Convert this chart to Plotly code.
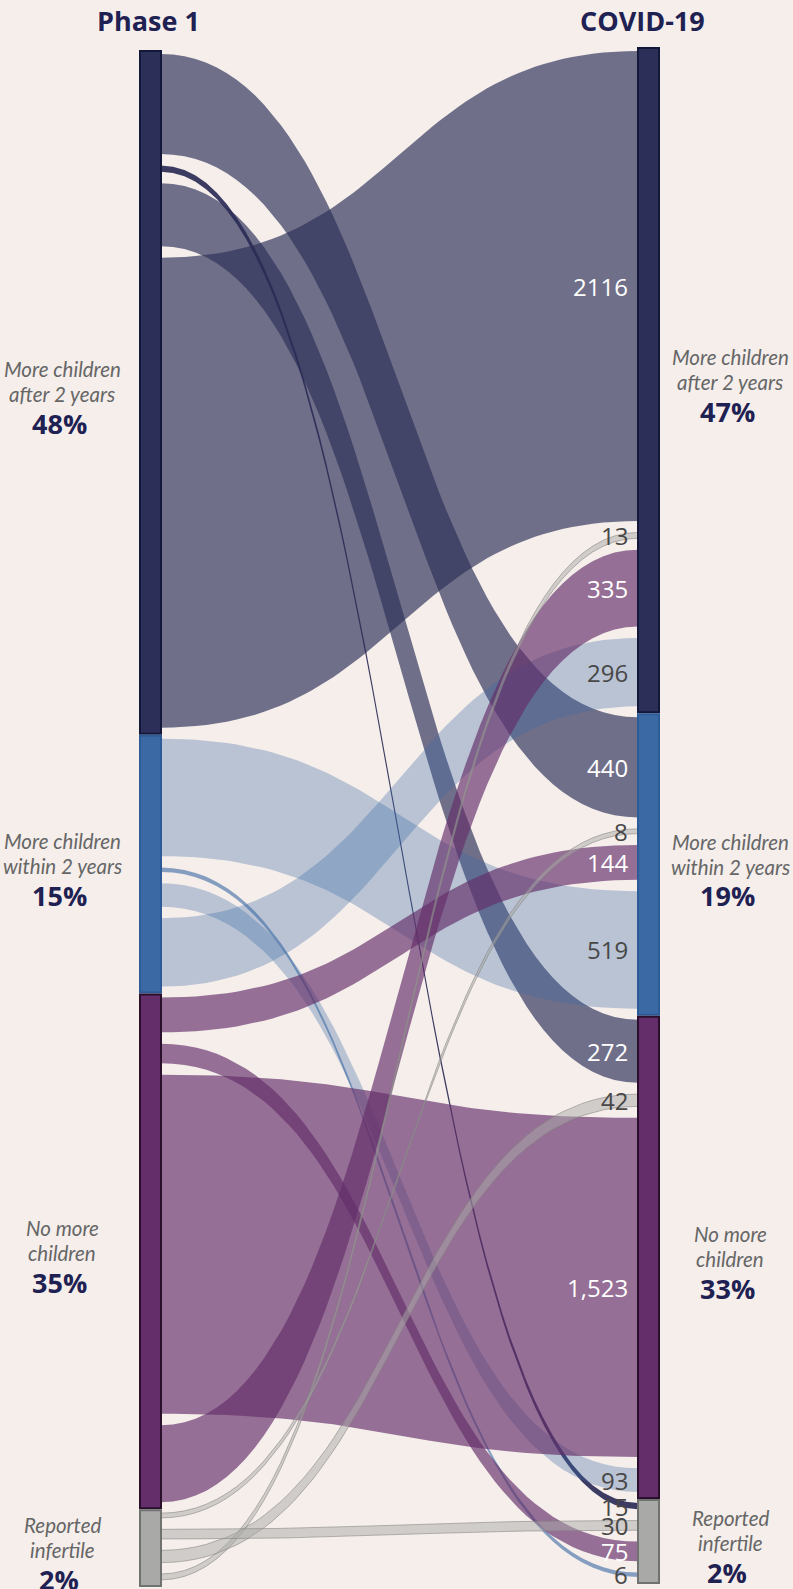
import numpy as np
import plotly.graph_objects as go

# nodes (same categories on both sides)
node_names = ["More children<br>after 2 years", "More children<br>within 2 years",
              "No more<br>children", "Reported<br>infertile"]
phase1_pct = ["48%", "15%", "35%", "2%"]
covid_pct = ["47%", "19%", "33%", "2%"]
column_titles = ["Phase 1", "COVID-19"]

# flows Phase 1 -> COVID-19
link_source = [0, 0, 0, 0, 1, 1, 1, 1, 2, 2, 2, 2, 3, 3, 3, 3]
link_target = [0, 1, 2, 3, 0, 1, 2, 3, 0, 1, 2, 3, 0, 1, 2, 3]
link_value = [2116, 440, 272, 15, 296, 519, 93, 6, 335, 144, 1523, 75, 13, 8, 42, 30]
link_label = ["2116", "440", "272", "15", "296", "519", "93", "6",
              "335", "144", "1,523", "75", "13", "8", "42", "30"]

# order of the ribbons inside a node
left_order = [1, 3, 2, 0]    # by target
right_order = [0, 3, 2, 1]   # by source

BG = "#f5eeeb"
NAVY = "#1e2152"
node_fill = ["#2c2f58", "#3a69a4", "#632e69", "#a9aaa8"]
node_line = ["#13173a", "#2d5b97", "#2a0f2d", "#707270"]
link_rgb = [(43, 45, 87), (58, 105, 164), (99, 46, 105), (169, 170, 168)]
link_alpha = [0.66, 0.32, 0.66, 0.5]
thin_alpha = [0.92, 0.6, 0.85, 0.5]

K = 0.2207      # px per unit
EXTRA = 3
GAP = 11.4
PAD_T, PAD_B = 4, 7
XL0, XL1 = 140, 161
XR0, XR1 = 638, 659
TOP_L, TOP_R = 50, 47

widths = [v * K + EXTRA for v in link_value]


def stack(top, own, other, order):
    pos = {}
    nodes = []
    y = top
    for n in range(len(node_names)):
        start = y
        y += PAD_T
        ls = [i for i in range(len(link_value)) if own[i] == n]
        ls.sort(key=lambda i: order.index(other[i]))
        for i in ls:
            pos[i] = y
            y += widths[i] + GAP
        y = y - GAP + PAD_B
        nodes.append((start, y))
    return pos, nodes


left_pos, left_nodes = stack(TOP_L, link_source, link_target, left_order)
right_pos, right_nodes = stack(TOP_R, link_target, link_source, right_order)


def bez(xa, ya, xb, yb, n=60):
    t = np.linspace(0, 1, n)
    xm = (xa + xb) / 2
    x = (1 - t) ** 3 * xa + 3 * (1 - t) ** 2 * t * xm + 3 * (1 - t) * t ** 2 * xm + t ** 3 * xb
    y = (1 - t) ** 3 * ya + 3 * (1 - t) ** 2 * t * ya + 3 * (1 - t) * t ** 2 * yb + t ** 3 * yb
    return x, y


fig = go.Figure()

for i in range(len(link_value)):
    s = link_source[i]
    w = widths[i]
    ya, yb = left_pos[i], right_pos[i]
    tx, ty = bez(XL1, ya, XR0, yb)
    bx, by = bez(XR0, yb + w, XL1, ya + w)
    a = link_alpha[s] if w >= 8 else thin_alpha[s]
    r, g, b = link_rgb[s]
    if s == 3:
        line = dict(color="rgba(130,130,128,0.55)", width=1)
    else:
        line = dict(width=0)
    fig.add_trace(go.Scatter(
        x=np.concatenate([tx, bx]), y=np.concatenate([ty, by]),
        fill="toself", fillcolor=f"rgba({r},{g},{b},{a})",
        mode="lines", line=line, hoverinfo="skip", showlegend=False))

    dark = s in (1, 3) or link_value[i] < 50
    fig.add_annotation(x=630, y=yb + w / 2, text=link_label[i], showarrow=False,
                       xanchor="right", yanchor="middle",
                       font=dict(family="Open Sans", size=24,
                                 color="#474747" if dark else "white"))

# nodes
for side, nodes, x0, x1 in [(0, left_nodes, XL0, XL1), (1, right_nodes, XR0, XR1)]:
    for n, (y0, y1) in enumerate(nodes):
        fig.add_shape(type="rect", x0=x0, x1=x1, y0=y0 + 1, y1=y1 - 1,
                      fillcolor=node_fill[n], line=dict(color=node_line[n], width=2),
                      layer="above")
        cy = (y0 + y1) / 2
        lx = 62 if side == 0 else 730
        pct = phase1_pct[n] if side == 0 else covid_pct[n]
        for j, part in enumerate(node_names[n].split("<br>")):
            fig.add_annotation(x=lx, y=cy - 23 + 25 * j, text="<i>" + part + "</i>",
                               showarrow=False, xanchor="center", yanchor="middle",
                               font=dict(family="Lato", size=20.5, color="#666666"))
        fig.add_annotation(x=lx - 3, y=cy + 31, text="<b>" + pct + "</b>",
                           showarrow=False, xanchor="center", yanchor="middle",
                           font=dict(family="Open Sans", size=27, color=NAVY))

fig.add_annotation(x=148, y=20, text="<b>" + column_titles[0] + "</b>", showarrow=False,
                   font=dict(family="Open Sans", size=27, color=NAVY))
fig.add_annotation(x=642, y=20, text="<b>" + column_titles[1] + "</b>", showarrow=False,
                   font=dict(family="Open Sans", size=27, color=NAVY))

fig.update_layout(
    width=793, height=1589,
    margin=dict(l=0, r=0, t=0, b=0),
    paper_bgcolor=BG, plot_bgcolor=BG,
    xaxis=dict(range=[0, 793], visible=False, fixedrange=True),
    yaxis=dict(range=[1589, 0], visible=False, fixedrange=True),
)

fig.write_html("out.html", config={"displayModeBar": False},
               post_script="document.body.style.margin='0';")
